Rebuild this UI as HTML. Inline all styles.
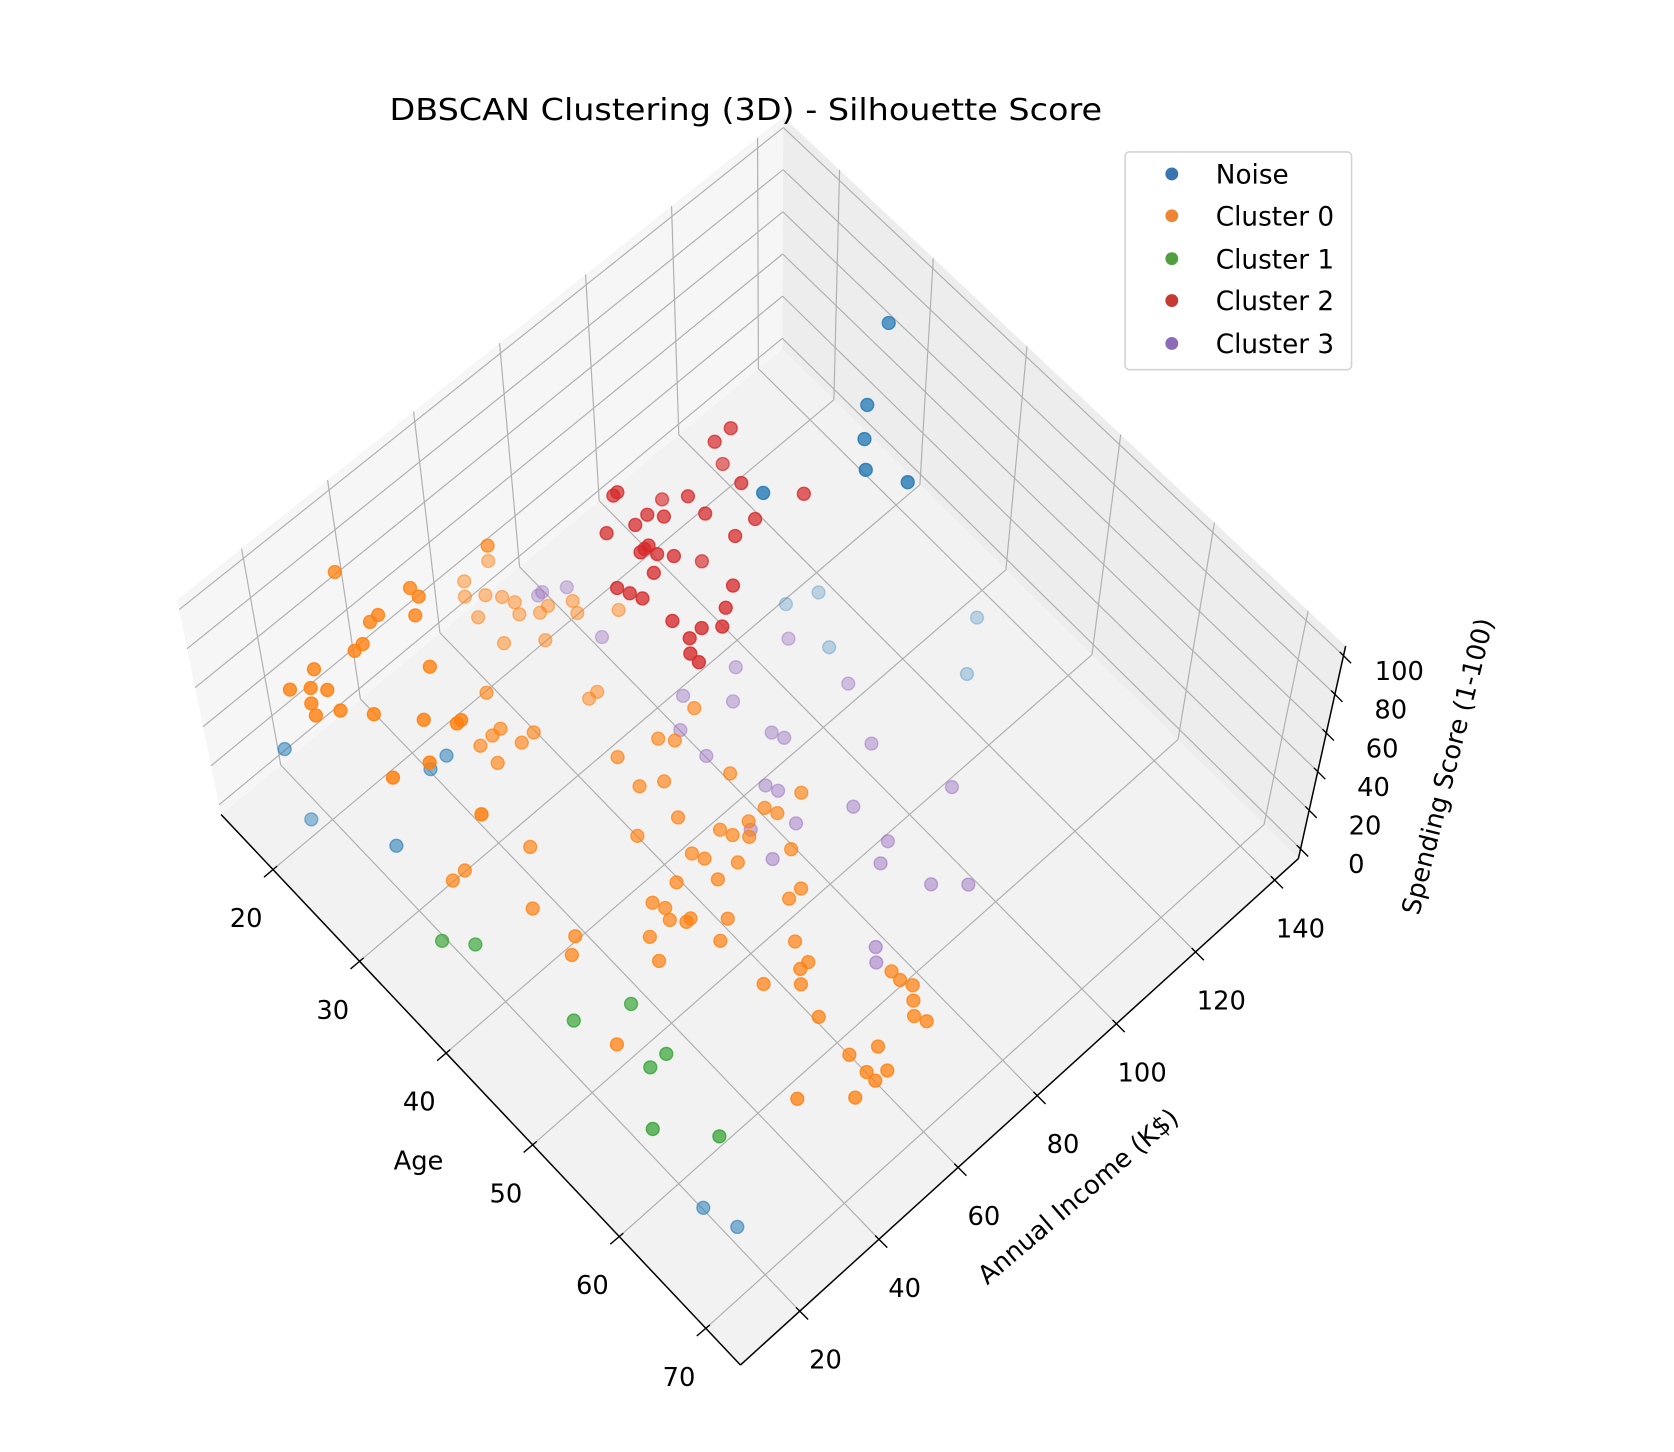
<!DOCTYPE html>
<html><head><meta charset="utf-8"><style>
html,body{margin:0;padding:0;background:#fff;}
svg{display:block;font-family:"DejaVu Sans","Liberation Sans",sans-serif;}
</style></head><body>
<svg id="chart" width="1674" height="1452" viewBox="0 0 1560 1353" xmlns="http://www.w3.org/2000/svg">
<g id="panes"></g>
<g id="grid"></g>
<g id="axes"></g>
<g id="points"></g>
<text x="695" y="112" font-size="28" text-anchor="middle" textLength="664" lengthAdjust="spacingAndGlyphs" fill="#000">DBSCAN Clustering (3D) - Silhouette Score</text>
<text x="390" y="1090" font-size="24" text-anchor="middle" fill="#000">Age</text>
<text x="0" y="0" font-size="24" text-anchor="middle" fill="#000" transform="translate(1010,1121) rotate(-40.5)">Annual Income (K$)</text>
<text x="0" y="0" font-size="24" text-anchor="middle" fill="#000" transform="translate(1357,716) rotate(-75.8)">Spending Score (1-100)</text>
<g>
<rect x="1048.5" y="141.5" width="211" height="203" rx="4" fill="#fff" stroke="#d4d4d4" stroke-width="1.5"/>
<g><circle cx="1092" cy="162" r="6" fill="#3b75af"/><text x="1133" y="171" font-size="24.5">Noise</text></g>
<g><circle cx="1092" cy="201" r="6" fill="#ef8636"/><text x="1133" y="210" font-size="24.5">Cluster 0</text></g>
<g><circle cx="1092" cy="241" r="6" fill="#519e3e"/><text x="1133" y="250" font-size="24.5">Cluster 1</text></g>
<g><circle cx="1092" cy="280" r="6" fill="#c53a32"/><text x="1133" y="289" font-size="24.5">Cluster 2</text></g>
<g><circle cx="1092" cy="320" r="6" fill="#8d6bb8"/><text x="1133" y="329" font-size="24.5">Cluster 3</text></g>
</g>
</svg>
<script>
// ---- data (Age, Annual Income, Spending Score) ----
const noiseAge = [30,34,36,38,41,34,32,33,37,43,46,18,22,27,27,30,66,69];
const noiseInc = [137,123,118,114,118,97,107,113,107,131,122,12,10,29,33,14,13,15];
const noiseSp  = [90,90,90,90,90,90,6,6,6,6,6,35,20,35,35,35,10,10];

const c0Age = [15,20,21,16,16,17,17,18,19,20,20,20,22,21,21,20,20,21,22,22,23,24,26,26,20,23,22,21,23,23,25,24,25,27,27,31,31,39,29,31,31,30,30,30,32,32,39,40,38,32,31,32,38,41,42,45,49,50,50,45,44,48,49,49,50,51,49,48,53,51,39,37,37,49,56,56,49,50,43,51,52,52,54,51,47,55,59,53,48,61,61,62,60,66,67,68,69,70,71,65,56,69,70,71,72,72,69,72];
const c0Inc = [31,39,39,67,67,65,59,57,60,62,31,29,36,25,23,15,9,12,14,10,9,13,17,31,56,56,62,63,65,67,62,71,70,76,43,62,60,69,23,27,28,38,40,35,41,44,60,62,52,35,11,18,18,51,55,65,65,66,72,52,44,56,57,61,59,54,50,49,63,49,28,16,13,43,59,56,37,38,20,37,39,40,45,32,22,41,51,30,19,50,48,46,41,60,60,61,59,57,58,44,13,43,48,43,46,43,30,38];
const c0Sp  = [80,80,80,35,35,35,35,35,35,35,80,80,80,80,80,80,80,80,80,80,80,80,80,80,35,35,35,35,35,35,35,35,35,35,50,35,35,50,80,80,80,50,50,50,50,50,50,50,50,50,80,80,80,50,50,50,50,50,50,50,50,50,50,50,50,50,50,50,50,50,50,50,50,50,50,50,50,50,50,50,50,50,50,50,50,50,50,50,50,50,50,50,50,50,50,50,50,50,50,50,50,50,50,50,50,50,50,50];

const c1Age = [39,41,51,53,58,58,62,66];
const c1Inc = [6,10,13,23,21,17,9,17];
const c1Sp  = [40,40,40,40,40,40,40,40];

const c2Age = [27,27,27,31,35,25,25,26,28,31,29,34,28,27,29,34,30,30,31,30,32,32,32,37,31,32,33,38,36,39,38,38,39,40];
const c2Inc = [104,100,102,98,105,79,80,89,81,89,83,95,78,73,89,90,77,76,77,75,79,86,74,83,67,68,69,79,70,76,73,70,68,68];
const c2Sp  = [80,80,65,80,80,80,80,65,80,80,80,80,80,80,80,80,80,80,80,80,80,65,80,80,80,80,80,80,80,80,80,80,80,80];

const c3Age = [20,20,21,26,36,42,35,34,37,36,41,42,47,39,44,45,50,54,48,46,54,49,55,59,61,60,61];
const c3Inc = [71,72,76,74,99,101,88,77,83,72,84,85,96,72,76,77,85,101,75,68,85,67,81,85,90,69,67];
const c3Sp  = [20,20,20,20,20,20,20,20,20,20,20,20,20,20,20,20,20,20,20,20,20,20,20,20,20,20,20];

const ageTicks = [20,30,40,50,60,70];
const incTicks = [20,40,60,80,100,120,140];
const spTicks  = [0,20,40,60,80,100];

// ---- axis functions ----
const AGE = [14,74], INC = [5,146], SP = [-5,105];
const nu = a => (a-AGE[0])/(AGE[1]-AGE[0]);
const nv = i => (i-INC[0])/(INC[1]-INC[0]);
const nw = s => (s-SP[0])/(SP[1]-SP[0]);
const FA=[206,759], FB=[690,1272], FC=[1210,800], FD=[729,325];
const VA=[-41,-200], VB=[-2,-190], VC=[44,-198], VD=[1,-216];
function bil(P00,P10,P11,P01,u,v){
  return [P00[0]*(1-u)*(1-v)+P10[0]*u*(1-v)+P11[0]*u*v+P01[0]*(1-u)*v,
          P00[1]*(1-u)*(1-v)+P10[1]*u*(1-v)+P11[1]*u*v+P01[1]*(1-u)*v];
}
function boxProj(u,v,w){
  const f=bil(FA,FB,FC,FD,u,v), h=bil(VA,VB,VC,VD,u,v);
  return [f[0]+w*h[0], f[1]+w*h[1]];
}
function pointProj(age,inc,sp){
  const u=nu(age), v=nv(inc), w=nw(sp);
  return [207+483*u+526*v, 760+482*u-445*v-198*w];
}
const NS='http://www.w3.org/2000/svg';
function mk(tag,attrs,parent){const e=document.createElementNS(NS,tag);for(const k in attrs)e.setAttribute(k,attrs[k]);parent.appendChild(e);return e;}
const panes=document.getElementById('panes'), grid=document.getElementById('grid'), axes=document.getElementById('axes'), ptsG=document.getElementById('points');
const pt = p => p[0].toFixed(1)+','+p[1].toFixed(1);

let e;
e=mk('polygon',{points:[boxProj(0,0,0),boxProj(1,0,0),boxProj(1,1,0),boxProj(0,1,0)].map(pt).join(' '),fill:'#f2f2f2'},panes);


e=mk('polygon',{points:[boxProj(0,0,0),boxProj(0,1,0),boxProj(0,1,1),boxProj(0,0,1)].map(pt).join(' '),fill:'#f6f6f6'},panes);


e=mk('polygon',{points:[boxProj(0,1,0),boxProj(1,1,0),boxProj(1,1,1),boxProj(0,1,1)].map(pt).join(' '),fill:'#ededed'},panes);



function gline(a,b,name){
  const l=mk('line',{x1:a[0],y1:a[1],x2:b[0],y2:b[1],stroke:'#b0b0b0','stroke-width':1.1},grid);
  
  
}
ageTicks.forEach(t=>{const u=nu(t);
  gline(boxProj(u,0,0),boxProj(u,1,0),'floor-grid-age');
  gline(boxProj(u,1,0),boxProj(u,1,1),'wall-grid-age');});
incTicks.forEach(t=>{const v=nv(t);
  gline(boxProj(0,v,0),boxProj(1,v,0),'floor-grid-income');
  gline(boxProj(0,v,0),boxProj(0,v,1),'wall-grid-income');});
spTicks.forEach(t=>{const w=nw(t);
  gline(boxProj(0,0,w),boxProj(0,1,w),'left-wall-grid-spending');
  gline(boxProj(0,1,w),boxProj(1,1,w),'right-wall-grid-spending');});

function aline(a,b,name,wd){
  const l=mk('line',{x1:a[0],y1:a[1],x2:b[0],y2:b[1],stroke:'#000','stroke-width':wd},axes);
  
  
}
function label(x,y,txt,name){
  const t=mk('text',{x:x,y:y,'font-size':24,'text-anchor':'middle',dy:'0.36em',fill:'#000'},axes);
  t.textContent=txt;
  
  
}
aline(boxProj(0,0,0),boxProj(1,0,0),'x-axis-line',1.4);
aline(boxProj(1,0,0),boxProj(1,1,0),'y-axis-line',1.4);
aline(boxProj(1,1,0),boxProj(1,1,1),'z-axis-line',1.4);
const dOutAge=[-0.763,0.646], dOutInc=[0.707,0.707];
ageTicks.forEach(t=>{const p=boxProj(nu(t),0,0);
  aline([p[0]+dOutAge[0]*11,p[1]+dOutAge[1]*11],[p[0]-dOutAge[0]*5,p[1]-dOutAge[1]*5],'x-tick',1.3);
  label(p[0]-25,p[1]+45,String(t),'x-tick-label');});
incTicks.forEach(t=>{const p=boxProj(1,nv(t),0);
  aline([p[0]+dOutInc[0]*11,p[1]+dOutInc[1]*11],[p[0]-dOutInc[0]*5,p[1]-dOutInc[1]*5],'y-tick',1.3);
  label(p[0]+24,p[1]+45,String(t),'y-tick-label');});
spTicks.forEach(t=>{const p=boxProj(1,1,nw(t));
  aline([p[0]+dOutInc[0]*10,p[1]+dOutInc[1]*10],[p[0]-dOutInc[0]*5,p[1]-dOutInc[1]*5],'z-tick',1.3);
  label(p[0]+52,p[1]+14,String(t),'z-tick-label');});

const series=[
  {name:'noise',color:'#1f77b4',age:noiseAge,inc:noiseInc,sp:noiseSp},
  {name:'cluster-0',color:'#ff7f0e',age:c0Age,inc:c0Inc,sp:c0Sp},
  {name:'cluster-1',color:'#2ca02c',age:c1Age,inc:c1Inc,sp:c1Sp},
  {name:'cluster-2',color:'#d62728',age:c2Age,inc:c2Inc,sp:c2Sp},
  {name:'cluster-3',color:'#9467bd',age:c3Age,inc:c3Inc,sp:c3Sp}
];
let all=[];
series.forEach(s=>{
  s.age.forEach((a,i)=>{
    const d=168*(nu(a)-nv(s.inc[i]))+550*nw(s.sp[i]);
    all.push({s:s,i:i,d:d,p:pointProj(a,s.inc[i],s.sp[i])});
  });
});
const dMin=Math.min(...all.map(o=>o.d)), dMax=Math.max(...all.map(o=>o.d));
all.forEach(o=>{o.al=0.3+0.7*(o.d-dMin)/(dMax-dMin);});
all.sort((a,b)=>a.d-b.d);
all.forEach(o=>{
  const c=mk('circle',{cx:o.p[0].toFixed(1),cy:o.p[1].toFixed(1),r:6,fill:o.s.color,'fill-opacity':(0.85*o.al).toFixed(3),stroke:o.s.color,'stroke-opacity':(0.92*o.al).toFixed(3),'stroke-width':1.3},ptsG);
  
  
});
</script>
</body></html>
